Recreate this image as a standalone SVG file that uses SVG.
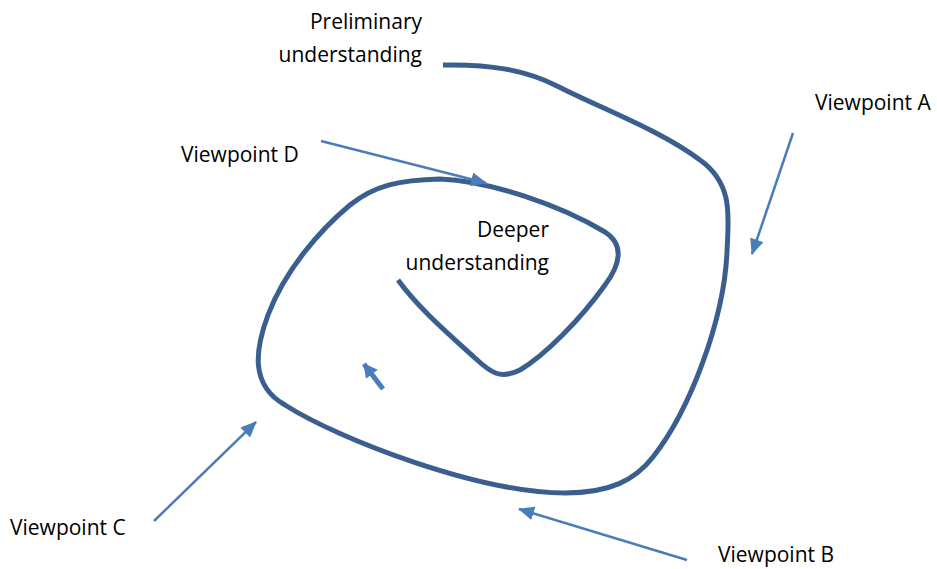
<svg xmlns="http://www.w3.org/2000/svg" width="937" height="569" viewBox="0 0 937 569">
<style>
  .lbl { font-family: "Open Sans", "Liberation Sans", sans-serif; font-size: 21px; fill: #000; }
  .spiral { fill: none; stroke: #3A5F8E; stroke-width: 5; stroke-linecap: butt; stroke-linejoin: round; }
  .arr { fill: none; stroke: #4A7EBB; stroke-width: 2.5; }
  .arr-thick { fill: none; stroke: #4A7EBB; stroke-width: 5; }
</style>
<defs>
  <marker id="head" markerUnits="userSpaceOnUse" viewBox="0 0 16 14" refX="15" refY="7" markerWidth="16" markerHeight="14" orient="auto">
    <path d="M0,0 L16,7 L0,14 Z" fill="#4A7EBB"/>
  </marker>
  <marker id="head2" markerUnits="userSpaceOnUse" viewBox="0 0 14 15" refX="13" refY="7.5" markerWidth="14" markerHeight="15" orient="auto">
    <path d="M0,0 L14,7.5 L0,15 Z" fill="#4A7EBB"/>
  </marker>
</defs>
<g id="spiral-node">
  <path class="spiral" d="M443,65 C490,64 525,70 557,86 C600,108 660,130 700,160 C735,185 728,220 727,252 C724,320 690,410 653,457 C635,480 610,493 565,493 C480,493 340,440 285,405 C250,385 255,350 268,315 C285,270 320,230 350,205 C375,185 400,180 440,179 C490,181 560,205 605,232 C625,245 620,265 605,285 C580,320 545,355 520,370 C500,380 490,372 475,358 C450,335 420,310 398,280"/>
</g>
<g id="label-preliminary">
  <text class="lbl" x="422" y="29" text-anchor="end">Preliminary</text>
  <text class="lbl" x="422" y="62" text-anchor="end">understanding</text>
</g>
<g id="label-deeper">
  <text class="lbl" x="549" y="237" text-anchor="end">Deeper</text>
  <text class="lbl" x="549" y="270" text-anchor="end">understanding</text>
</g>
<g id="viewpoint-a"><text class="lbl" x="815" y="110">Viewpoint A</text></g>
<g id="viewpoint-b"><text class="lbl" x="718" y="562">Viewpoint B</text></g>
<g id="viewpoint-c"><text class="lbl" x="10" y="535">Viewpoint C</text></g>
<g id="viewpoint-d"><text class="lbl" x="181" y="162">Viewpoint D</text></g>
<g id="connectors">
  <line class="arr" x1="321" y1="141" x2="486" y2="183" marker-end="url(#head)"/>
  <line class="arr" x1="793" y1="133" x2="752" y2="254" marker-end="url(#head)"/>
  <line class="arr" x1="687" y1="560" x2="519" y2="509" marker-end="url(#head)"/>
  <line class="arr" x1="154" y1="521" x2="256" y2="422" marker-end="url(#head)"/>
  <line class="arr-thick" x1="383" y1="389" x2="364" y2="364" marker-end="url(#head2)"/>
</g>
</svg>
